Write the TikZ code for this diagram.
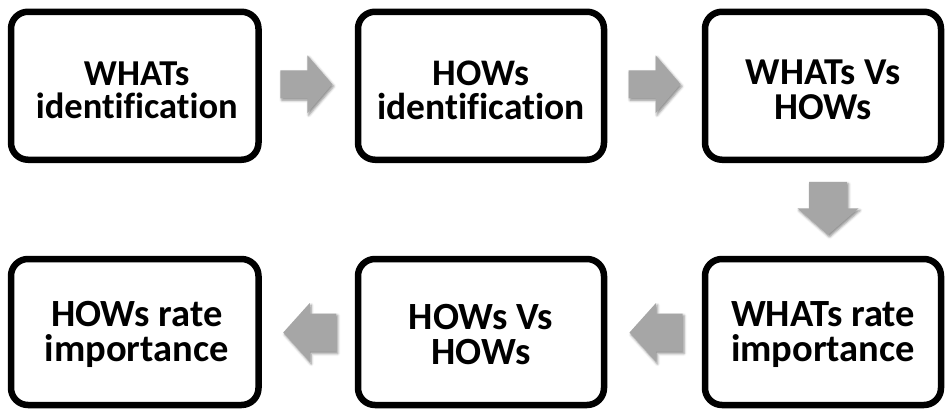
\documentclass[tikz,border=0pt]{standalone}
\usepackage{fontspec}
\setmainfont{Carlito}[Ligatures={CommonOff}]
\usetikzlibrary{shadows,shadows.blur,calc}
\definecolor{arrowgray}{HTML}{A6A6A6}
\tikzset{
  stepbox/.style={draw=black, line width=6.5pt, rounded corners=17pt, fill=white,
    inner sep=0pt, minimum height=148pt},
  steptext/.style 2 args={align=center, inner sep=0pt, font=\fontsize{#1}{#2}\selectfont\bfseries},
  arrowfill/.style={fill=arrowgray, draw=none,
    blur shadow={shadow xshift=1.5pt, shadow yshift=-2pt, shadow blur radius=2.5pt, shadow opacity=45}},
  rthin/.pic={\path[arrowfill] (-26,-14) -- (1,-14) -- (1,-29) -- (26,0) -- (1,29) -- (1,14) -- (-26,14) -- cycle;},
  lthick/.pic={\path[arrowfill] (26.5,-19) -- (0,-19) -- (0,-29.5) -- (-26.5,0) -- (0,29.5) -- (0,19) -- (26.5,19) -- cycle;},
  dthick/.pic={\path[arrowfill] (-19,-26.5) -- (19,-26.5) -- (19,0) -- (30.5,0) -- (0,26.5) -- (-30.5,0) -- (-19,0) -- (-19,-26.5) -- cycle;}
}
\begin{document}
\begin{tikzpicture}[x=1pt,y=-1pt]
\useasboundingbox (0,0) rectangle (946,410);
\node[stepbox, minimum width=247.5pt, label={[steptext={36.5}{33.5}, xshift=2pt, yshift=-4.5pt]center:WHATs\\identification}] (b1) at (134.75,85.75) {};
\node[stepbox, minimum width=246pt, label={[steptext={37.5}{34}, yshift=-4.5pt]center:HOWs\\identification}] (b2) at (481,85.75) {};
\node[stepbox, minimum width=236pt, label={[steptext={38}{34.5}, yshift=-4pt]center:WHATs Vs\\HOWs}] (b3) at (823,85.75) {};
\node[stepbox, minimum width=247.5pt, minimum height=146pt, label={[steptext={38.5}{35}, xshift=2pt, yshift=-2.5pt]center:HOWs rate\\importance}] (b4) at (134.75,332) {};
\node[stepbox, minimum width=246pt, minimum height=146pt, label={[steptext={38.5}{35}, yshift=-2.5pt]center:HOWs Vs\\HOWs}] (b5) at (481,332) {};
\node[stepbox, minimum width=236pt, minimum height=146pt, label={[steptext={38.5}{35}, yshift=-2.5pt]center:WHATs rate\\importance}] (b6) at (823,332) {};
\coordinate (a1) at ($(b1.east)!0.5!(b2.west)+(-2,-1.5)$);
\coordinate (a2) at ($(b2.east)!0.5!(b3.west)+(0,-1.5)$);
\coordinate (a3) at ($(b3.south)!0.5!(b6.north)+(5,-1)$);
\coordinate (a4) at ($(b6.west)!0.5!(b5.east)+(1.5,0.5)$);
\coordinate (a5) at ($(b5.west)!0.5!(b4.east)+(1.5,0.5)$);
\pic at (a1) {rthin};
\pic at (a2) {rthin};
\pic at (a3) {dthick};
\pic at (a4) {lthick};
\pic at (a5) {lthick};
\end{tikzpicture}
\end{document}
